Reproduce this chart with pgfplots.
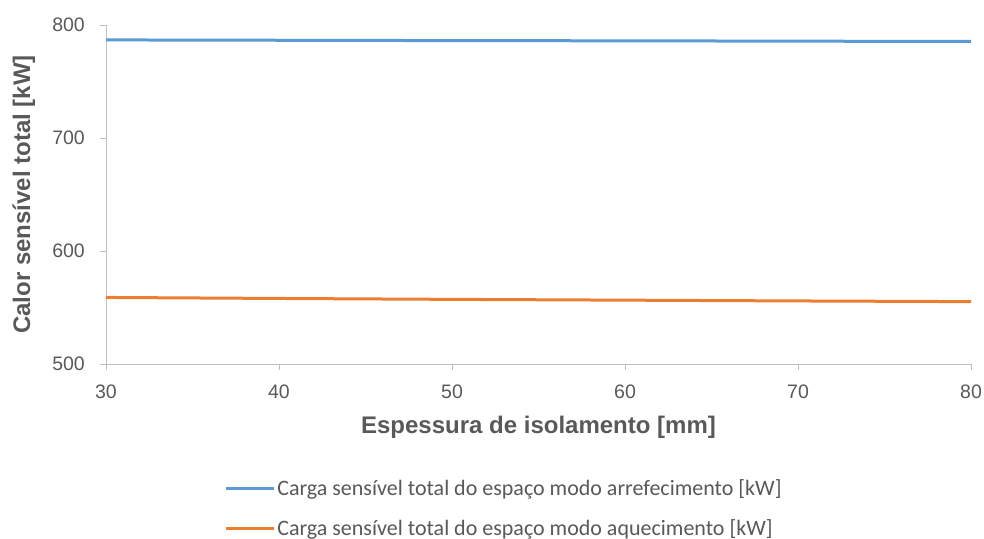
\documentclass[border=0pt]{standalone}
\usepackage{pgfplots}
\pgfplotsset{compat=1.18}
\usepackage{fontspec}
\setmainfont{Liberation Sans}
\newfontfamily\legendfont{Carlito}
\definecolor{axgray}{HTML}{BFBFBF}
\definecolor{txtgray}{HTML}{595959}
\definecolor{cblue}{HTML}{5B9BD5}
\definecolor{corange}{HTML}{ED7D31}
\begin{document}
\begin{tikzpicture}[x=1pt,y=1pt]
\useasboundingbox (-106,-174) rectangle (878,364);
\begin{axis}[
  at={(0,0)}, anchor=south west,
  scale only axis, width=865pt, height=339pt,
  xmin=30, xmax=80, ymin=500, ymax=800,
  xtick={30,40,...,80}, ytick={500,600,700,800},
  axis lines=left,
  axis line style={-, draw=axgray, line width=0.9pt},
  tick align=outside, major tick length=6pt,
  tick style={draw=axgray, line width=0.9pt},
  /pgf/number format/assume math mode=true,
  ticklabel style={font=\fontsize{19.5}{22}\selectfont, text=txtgray},
  yticklabel style={inner sep=1pt, xshift=-14pt},
  xticklabel style={yshift=-11pt},
  xlabel={Espessura de isolamento [mm]},
  ylabel={Calor sensível total [kW]},
  label style={font=\bfseries\fontsize{24}{28}\selectfont, text=txtgray},
  xlabel style={at={(axis description cs:0.5,-0.186)}, anchor=center},
  ylabel style={at={(axis description cs:-0.095,0.5)}, anchor=center},
  legend style={at={(0.46,-0.337)}, anchor=north, draw=none,
    font=\legendfont\fontsize{22}{26}\selectfont, text=txtgray,
    row sep=21pt, inner sep=0pt,
    nodes={inner xsep=1.5pt, inner ysep=1pt}},
  legend cell align=left,
  legend image code/.code={\draw[#1] (0pt,0pt) -- (48pt,0pt);},
]
\addplot[cblue, line width=3pt] coordinates {
  (30,786.8) (40,786.5) (50,786.2) (60,786.0) (70,785.7) (80,785.4)};
\addlegendentry{Carga sensível total do espaço modo arrefecimento [kW]}
\addplot[corange, line width=3pt] coordinates {
  (30,558.9) (40,558.0) (50,557.2) (60,556.5) (70,555.8) (80,555.2)};
\addlegendentry{Carga sensível total do espaço modo aquecimento [kW]}
\end{axis}
\end{tikzpicture}
\end{document}
